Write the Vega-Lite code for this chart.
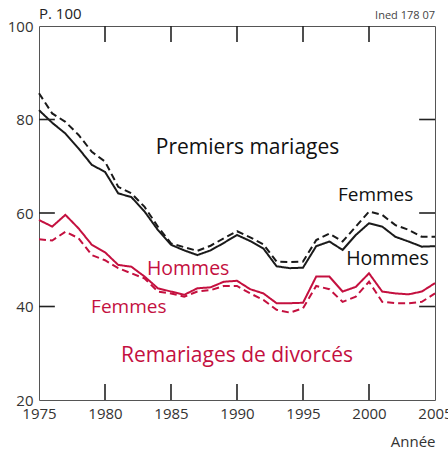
{
  "$schema": "https://vega.github.io/schema/vega-lite/v6.json",
  "width": 396,
  "height": 374,
  "autosize": {"type": "none"},
  "padding": {"left": 39, "top": 26, "right": 13, "bottom": 49},
  "background": "white",
  "config": {
    "font": "Open Sans",
    "view": {"stroke": "#555", "strokeWidth": 1},
    "axis": {"grid": false, "domain": false, "ticks": false, "labelColor": "#333", "labelFontSize": 15, "labelFont": "Open Sans"}
  },
  "datasets": {
    "rates": [
      {"year": 1975, "ph": 82.0, "pf": 85.6, "rh": 58.5, "rf": 54.4},
      {"year": 1976, "ph": 79.3, "pf": 81.3, "rh": 57.1, "rf": 54.1},
      {"year": 1977, "ph": 77.0, "pf": 79.5, "rh": 59.6, "rf": 56.0},
      {"year": 1978, "ph": 73.8, "pf": 76.7, "rh": 56.7, "rf": 54.6},
      {"year": 1979, "ph": 70.3, "pf": 73.1, "rh": 53.2, "rf": 51.0},
      {"year": 1980, "ph": 68.8, "pf": 71.0, "rh": 51.6, "rf": 49.9},
      {"year": 1981, "ph": 64.2, "pf": 65.6, "rh": 48.9, "rf": 48.2},
      {"year": 1982, "ph": 63.4, "pf": 64.2, "rh": 48.5, "rf": 47.1},
      {"year": 1983, "ph": 60.3, "pf": 61.3, "rh": 46.4, "rf": 46.0},
      {"year": 1984, "ph": 56.4, "pf": 57.1, "rh": 43.9, "rf": 43.2},
      {"year": 1985, "ph": 53.2, "pf": 53.5, "rh": 43.2, "rf": 42.8},
      {"year": 1986, "ph": 52.0, "pf": 52.7, "rh": 42.5, "rf": 42.1},
      {"year": 1987, "ph": 51.0, "pf": 51.9, "rh": 43.9, "rf": 43.2},
      {"year": 1988, "ph": 52.0, "pf": 53.0, "rh": 44.1, "rf": 43.5},
      {"year": 1989, "ph": 53.6, "pf": 54.6, "rh": 45.3, "rf": 44.4},
      {"year": 1990, "ph": 55.3, "pf": 56.1, "rh": 45.5, "rf": 44.4},
      {"year": 1991, "ph": 54.0, "pf": 54.8, "rh": 43.7, "rf": 42.8},
      {"year": 1992, "ph": 52.4, "pf": 53.3, "rh": 42.8, "rf": 41.4},
      {"year": 1993, "ph": 48.6, "pf": 49.6, "rh": 40.7, "rf": 39.3},
      {"year": 1994, "ph": 48.2, "pf": 49.5, "rh": 40.7, "rf": 38.7},
      {"year": 1995, "ph": 48.3, "pf": 49.6, "rh": 40.8, "rf": 39.6},
      {"year": 1996, "ph": 52.9, "pf": 54.2, "rh": 46.4, "rf": 44.4},
      {"year": 1997, "ph": 53.9, "pf": 55.6, "rh": 46.4, "rf": 43.7},
      {"year": 1998, "ph": 52.1, "pf": 53.9, "rh": 43.2, "rf": 41.0},
      {"year": 1999, "ph": 55.3, "pf": 57.1, "rh": 44.2, "rf": 42.1},
      {"year": 2000, "ph": 57.8, "pf": 60.3, "rh": 47.1, "rf": 45.3},
      {"year": 2001, "ph": 57.1, "pf": 59.6, "rh": 43.2, "rf": 41.0},
      {"year": 2002, "ph": 54.9, "pf": 57.4, "rh": 42.8, "rf": 40.7},
      {"year": 2003, "ph": 53.9, "pf": 56.4, "rh": 42.6, "rf": 40.7},
      {"year": 2004, "ph": 52.8, "pf": 54.9, "rh": 43.2, "rf": 41.0},
      {"year": 2005, "ph": 52.9, "pf": 54.9, "rh": 45.0, "rf": 42.8}
    ],
    "xticks": [{"t": 1980}, {"t": 1985}, {"t": 1990}, {"t": 1995}, {"t": 2000}],
    "yticks": [{"t": 40}, {"t": 60}, {"t": 80}]
  },
  "resolve": {"axis": {"x": "independent", "y": "independent"}},
  "layer": [
    {
      "data": {"name": "rates"},
      "transform": [{"fold": ["ph", "pf", "rh", "rf"], "as": ["series", "value"]}],
      "mark": {"type": "line", "strokeWidth": 2},
      "encoding": {
        "x": {"field": "year", "type": "quantitative", "scale": {"domain": [1975, 2005], "nice": false, "zero": false},
              "axis": {"orient": "bottom", "title": "Année", "titleFontSize": 15, "titleFontWeight": "normal", "titleColor": "#333", "titleAnchor": "end", "titleAlign": "right", "titleX": 396, "titleY": 46, "titleBaseline": "alphabetic", "values": [1975, 1980, 1985, 1990, 1995, 2000, 2005], "format": "d", "labelPadding": 6, "labelFlush": false, "labelOverlap": false}},
        "y": {"field": "value", "type": "quantitative", "scale": {"domain": [20, 100], "nice": false, "zero": false},
              "axis": {"orient": "left", "title": null, "values": [20, 40, 60, 80, 100], "labelPadding": 6, "labelFlush": false, "labelOverlap": false}},
        "color": {"field": "series", "type": "nominal", "legend": null,
                  "scale": {"domain": ["ph", "pf", "rh", "rf"], "range": ["#1a1a1a", "#1a1a1a", "#c4103f", "#c4103f"]}},
        "strokeDash": {"field": "series", "type": "nominal", "legend": null,
                       "scale": {"domain": ["ph", "pf", "rh", "rf"], "range": [[1, 0], [7, 4], [1, 0], [7, 4]]}}
      }
    },
    {
      "data": {"name": "xticks"},
      "mark": {"type": "rule", "color": "#222", "strokeWidth": 1.6, "opacity": 1},
      "encoding": {"x": {"field": "t", "type": "quantitative", "axis": null}, "y": {"datum": 100, "type": "quantitative", "axis": null}, "y2": {"datum": 96.6}}
    },
    {
      "data": {"name": "xticks"},
      "mark": {"type": "rule", "color": "#222", "strokeWidth": 1.6, "opacity": 1},
      "encoding": {"x": {"field": "t", "type": "quantitative", "axis": null}, "y": {"datum": 20, "type": "quantitative", "axis": null}, "y2": {"datum": 23.4}}
    },
    {
      "data": {"name": "yticks"},
      "mark": {"type": "rule", "color": "#222", "strokeWidth": 1.6, "opacity": 1},
      "encoding": {"y": {"field": "t", "type": "quantitative", "axis": null}, "x": {"datum": 1975, "type": "quantitative", "axis": null}, "x2": {"datum": 1976.2}}
    },
    {
      "data": {"name": "yticks"},
      "mark": {"type": "rule", "color": "#222", "strokeWidth": 1.6, "opacity": 1},
      "encoding": {"y": {"field": "t", "type": "quantitative", "axis": null}, "x": {"datum": 2005, "type": "quantitative", "axis": null}, "x2": {"datum": 2003.8}}
    },
    {
      "data": {"values": [{}]},
      "mark": {"type": "text", "fontSize": 15, "align": "left", "baseline": "alphabetic", "color": "#222"},
      "encoding": {"text": {"value": "P. 100"}, "x": {"datum": 1975, "type": "quantitative", "axis": null}, "y": {"datum": 101.5, "type": "quantitative", "axis": null}}
    },
    {
      "data": {"values": [{}]},
      "mark": {"type": "text", "fontSize": 11, "align": "right", "baseline": "alphabetic", "color": "#444"},
      "encoding": {"text": {"value": "Ined 178 07"}, "x": {"datum": 2005, "type": "quantitative", "axis": null}, "y": {"datum": 101.5, "type": "quantitative", "axis": null}}
    },
    {
      "data": {"values": [{}]},
      "mark": {"type": "text", "fontSize": 21, "align": "center", "baseline": "alphabetic", "color": "#111"},
      "encoding": {"text": {"value": "Premiers mariages"}, "x": {"datum": 1990.8, "type": "quantitative", "axis": null}, "y": {"datum": 72.6, "type": "quantitative", "axis": null}}
    },
    {
      "data": {"values": [{}]},
      "mark": {"type": "text", "fontSize": 21, "align": "center", "baseline": "alphabetic", "color": "#c4103f"},
      "encoding": {"text": {"value": "Remariages de divorcés"}, "x": {"datum": 1990.0, "type": "quantitative", "axis": null}, "y": {"datum": 28.1, "type": "quantitative", "axis": null}}
    },
    {
      "data": {"values": [{}]},
      "mark": {"type": "text", "fontSize": 19, "align": "center", "baseline": "alphabetic", "color": "#111"},
      "encoding": {"text": {"value": "Femmes"}, "x": {"datum": 2000.5, "type": "quantitative", "axis": null}, "y": {"datum": 62.6, "type": "quantitative", "axis": null}}
    },
    {
      "data": {"values": [{}]},
      "mark": {"type": "text", "fontSize": 19.5, "align": "center", "baseline": "alphabetic", "color": "#111"},
      "encoding": {"text": {"value": "Hommes"}, "x": {"datum": 2001.4, "type": "quantitative", "axis": null}, "y": {"datum": 48.9, "type": "quantitative", "axis": null}}
    },
    {
      "data": {"values": [{}]},
      "mark": {"type": "text", "fontSize": 19.5, "align": "center", "baseline": "alphabetic", "color": "#c4103f"},
      "encoding": {"text": {"value": "Hommes"}, "x": {"datum": 1986.3, "type": "quantitative", "axis": null}, "y": {"datum": 46.7, "type": "quantitative", "axis": null}}
    },
    {
      "data": {"values": [{}]},
      "mark": {"type": "text", "fontSize": 19, "align": "center", "baseline": "alphabetic", "color": "#c4103f"},
      "encoding": {"text": {"value": "Femmes"}, "x": {"datum": 1981.8, "type": "quantitative", "axis": null}, "y": {"datum": 38.7, "type": "quantitative", "axis": null}}
    }
  ]
}
